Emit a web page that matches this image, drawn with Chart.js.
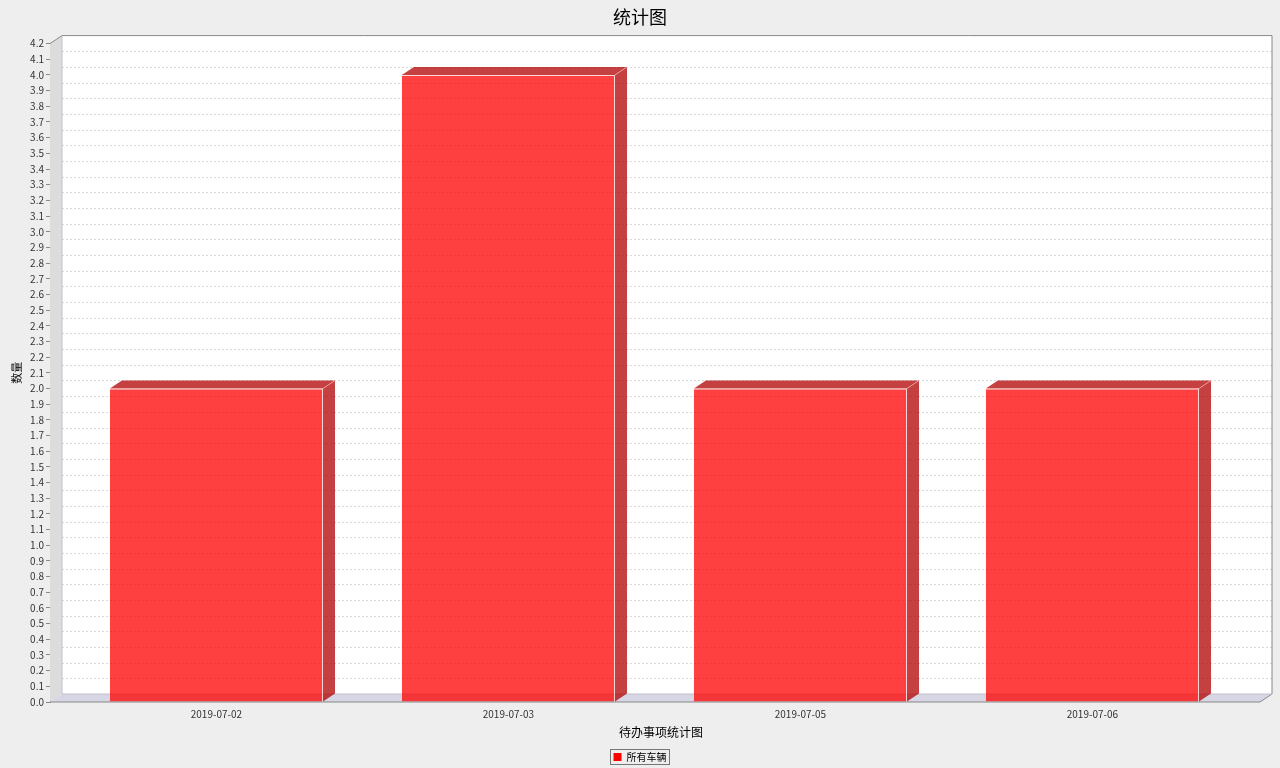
<!DOCTYPE html>
<html>
<head>
<meta charset="utf-8">
<script src="https://cdn.jsdelivr.net/npm/chart.js@4.4.1/dist/chart.umd.min.js"></script>
<style>
  html,body{margin:0;padding:0;background:#eeeeee;overflow:hidden;}
  #wrap{width:1280px;height:772px;position:relative;}
</style>
</head>
<body>
<div id="wrap"><canvas id="c"></canvas></div>
<script>
// data
const categories = ['2019-07-02', '2019-07-03', '2019-07-05', '2019-07-06'];
const counts = [2, 4, 2, 2];
const seriesName = '所有车辆';
const yMin = 0, yMax = 4.2, yStep = 0.1;

const CJK = '"Noto Sans CJK SC", "DejaVu Sans", sans-serif';
const DX = 12, DY = 8; // 3d depth

// walls, floor, grid and the side/top faces of the bars
const threeD = {
  id: 'threeD',
  beforeDatasetsDraw(chart){
    const {ctx, chartArea: ca} = chart;
    const ys = chart.scales.y;
    const L = ca.left, R = ca.right - DX, T = ca.top, B = ca.bottom;
    ctx.save();
    // back wall
    ctx.fillStyle = '#ffffff';
    ctx.fillRect(L + DX, T - DY, R - L, B - T);
    // left wall
    ctx.fillStyle = '#dcdcdc';
    ctx.beginPath();
    ctx.moveTo(L, T); ctx.lineTo(L + DX, T - DY); ctx.lineTo(L + DX, B - DY); ctx.lineTo(L, B);
    ctx.closePath(); ctx.fill();
    // floor
    ctx.fillStyle = '#d6d6e4';
    ctx.beginPath();
    ctx.moveTo(L, B); ctx.lineTo(L + DX, B - DY); ctx.lineTo(R + DX, B - DY); ctx.lineTo(R, B);
    ctx.closePath(); ctx.fill();
    // grid on back wall
    ctx.strokeStyle = '#d8d8d8'; ctx.lineWidth = 1; ctx.setLineDash([2, 2]);
    ys.ticks.forEach(t => {
      if (t.value <= yMin || t.value >= yMax) return;
      const y = Math.round(ys.getPixelForValue(t.value) - DY) + 0.5;
      ctx.beginPath(); ctx.moveTo(L + DX, y); ctx.lineTo(R + DX, y); ctx.stroke();
    });
    ctx.setLineDash([]);
    // outlines
    ctx.strokeStyle = '#888888';
    ctx.beginPath();
    ctx.moveTo(L, T); ctx.lineTo(L + DX, T - DY); ctx.lineTo(R + DX, T - DY);
    ctx.lineTo(R + DX, B - DY); ctx.lineTo(R, B); ctx.lineTo(L, B);
    ctx.stroke();
    ctx.strokeStyle = '#c0c0cc';
    ctx.beginPath();
    ctx.moveTo(L + DX, T - DY); ctx.lineTo(L + DX, B - DY); ctx.lineTo(R + DX, B - DY);
    ctx.stroke();
    // bar top + side faces
    chart.getDatasetMeta(0).data.forEach(bar => {
      const p = bar.getProps(['x', 'y', 'base', 'width'], true);
      const l = p.x - p.width / 2, r = p.x + p.width / 2;
      ctx.fillStyle = 'rgba(178,0,0,0.75)';
      ctx.beginPath();
      ctx.moveTo(l, p.y); ctx.lineTo(l + DX, p.y - DY); ctx.lineTo(r + DX, p.y - DY); ctx.lineTo(r, p.y);
      ctx.closePath(); ctx.fill();
      ctx.beginPath();
      ctx.moveTo(r, p.y); ctx.lineTo(r + DX, p.y - DY); ctx.lineTo(r + DX, p.base - DY); ctx.lineTo(r, p.base);
      ctx.closePath(); ctx.fill();
      ctx.strokeStyle = 'rgba(255,200,200,0.6)';
      ctx.beginPath(); ctx.moveTo(r, p.y); ctx.lineTo(r + DX, p.y - DY); ctx.stroke();
    });
    ctx.restore();
  },
  afterDraw(chart){
    // frame round the legend
    const hb = chart.legend && chart.legend.legendHitBoxes && chart.legend.legendHitBoxes[0];
    if (!hb) return;
    const ctx = chart.ctx;
    ctx.save();
    ctx.strokeStyle = '#777777'; ctx.lineWidth = 1;
    ctx.strokeRect(Math.round(hb.left - 4) + 0.5, Math.round(hb.top - 3) + 0.5, Math.round(hb.width + 6), Math.round(hb.height + 5));
    ctx.restore();
  }
};

new Chart(document.getElementById('c'), {
  type: 'bar',
  data: {
    datasets: [{
      label: seriesName,
      data: counts.map((v, i) => ({x: i, y: v})),
      backgroundColor: 'rgba(255,0,0,0.75)',
      borderColor: 'rgba(255,210,210,0.9)',
      borderWidth: {top: 1, right: 1, left: 0, bottom: 0},
      borderSkipped: false,
      categoryPercentage: 1,
      barPercentage: 0.73
    }]
  },
  options: {
    responsive: true,
    maintainAspectRatio: false,
    animation: false,
    layout: {padding: 0},
    plugins: {
      title: {
        display: true, text: '统计图', color: '#000',
        font: {family: CJK, size: 18, weight: 'normal'},
        padding: {top: 6, bottom: 16}
      },
      legend: {
        position: 'bottom',
        labels: {
          font: {family: CJK, size: 10}, color: '#000',
          boxWidth: 8, boxHeight: 8, padding: 2,
          generateLabels: chart => chart.data.datasets.map((d, i) => ({
            text: d.label, fillStyle: '#ff0000', strokeStyle: '#ff0000', lineWidth: 0, hidden: false, datasetIndex: i
          }))
        }
      },
      tooltip: {enabled: false}
    },
    scales: {
      x: {
        type: 'linear',
        offset: false,
        min: -0.57, max: 3.615,
        afterBuildTicks: s => { s.ticks = categories.map((_, i) => ({value: i})); },
        afterFit: s => { s.height = 48; },
        grid: {display: false, drawTicks: false, offset: false},
        border: {display: false},
        ticks: {
          autoSkip: false, maxRotation: 0, padding: 6, color: '#333',
          font: {family: CJK, size: 10},
          callback: v => categories[v] ?? ''
        },
        title: {
          display: true, text: '待办事项统计图', color: '#000',
          font: {family: CJK, size: 12}, padding: {top: 0, bottom: 10}
        }
      },
      y: {
        min: yMin, max: yMax,
        afterFit: s => { s.width = 50; },
        grid: {drawOnChartArea: false, drawTicks: true, tickLength: 4, color: '#888888'},
        border: {display: true, color: '#888888'},
        ticks: {
          stepSize: yStep, autoSkip: false, padding: 2, color: '#333',
          font: {family: CJK, size: 10},
          callback: v => Number(v).toFixed(1)
        },
        title: {
          display: true, text: '数量', color: '#000',
          font: {family: CJK, size: 11}, padding: {top: 10, bottom: 0}
        }
      },
      // empty strip on the right so the plot box reaches x=1272
      yRight: {
        position: 'right',
        afterFit: s => { s.width = 8; },
        grid: {display: false},
        border: {display: false},
        ticks: {display: false}
      }
    }
  },
  plugins: [threeD]
});
</script>
</body>
</html>
